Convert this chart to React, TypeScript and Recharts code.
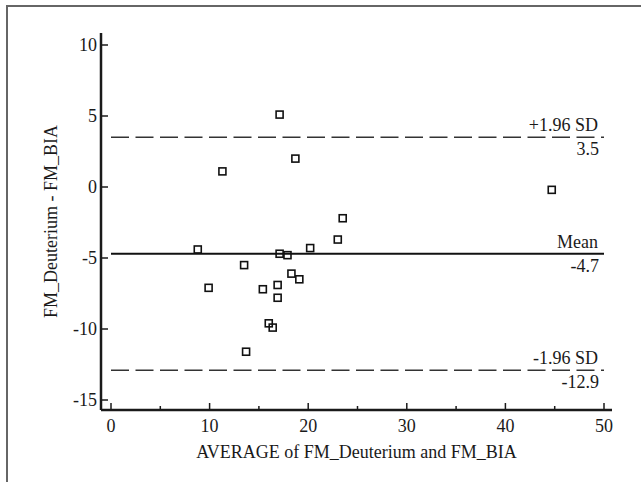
import React from 'react';
import { ScatterChart, Scatter, XAxis, YAxis, ReferenceLine, Label } from 'recharts';

// Bland-Altman data: average of the two methods (x) and their difference (y)
const averages = [17.1, 18.7, 11.3, 44.7, 23.5, 23.0, 20.2, 8.8, 17.1, 17.9, 13.5, 18.3, 19.1, 16.9, 9.9, 15.4, 16.9, 16.0, 16.4, 13.7];
const differences = [5.1, 2.0, 1.1, -0.2, -2.2, -3.7, -4.3, -4.4, -4.7, -4.8, -5.5, -6.1, -6.5, -6.9, -7.1, -7.2, -7.8, -9.6, -9.9, -11.6];

const xTicks = [0, 5, 10, 15, 20, 25, 30, 35, 40, 45, 50];
const yTicks = [-15, -10, -5, 0, 5, 10];

const meanDiff = -4.7;
const upperLimit = 3.5;
const lowerLimit = -12.9;

const FONT = 'Liberation Serif, Times New Roman, serif';
const INK = '#1a1a1a';

const points = averages.map((x, i) => ({ x, y: differences[i] }));

const XTick = (props: any) => {
  const { x, y, payload } = props;
  const major = payload.value % 10 === 0;
  return (
    <g>
      <line x1={x} x2={x} y1={y} y2={y - (major ? 7 : 4)} stroke={INK} strokeWidth={1.5} />
      {major && (
        <text x={x} y={y + 22} textAnchor="middle" fontFamily={FONT} fontSize={18} fill={INK}>
          {payload.value}
        </text>
      )}
    </g>
  );
};

const YTick = (props: any) => {
  const { x, y, payload } = props;
  return (
    <g>
      <line x1={x} x2={x + 7} y1={y} y2={y} stroke={INK} strokeWidth={1.5} />
      <text x={x - 4} y={y + 6} textAnchor="end" fontFamily={FONT} fontSize={18} fill={INK}>
        {payload.value}
      </text>
    </g>
  );
};

const SquareMarker = (props: any) => {
  const { cx, cy } = props;
  return <rect x={cx - 3.5} y={cy - 3.5} width={7} height={7} fill="none" stroke="#111" strokeWidth={1.6} />;
};

const labelStyle = { fontFamily: FONT, fontSize: 18, fill: INK };

export default function App() {
  return (
    <div style={{ position: 'absolute', left: 0, top: 0, width: 641, height: 482, background: '#fff', overflow: 'hidden' }}>
      <ScatterChart width={641} height={482} margin={{ top: 33, right: 29, bottom: 0, left: 0 }}>
        <XAxis
          xAxisId={0}
          dataKey="x"
          type="number"
          domain={[0, 50]}
          ticks={xTicks}
          padding={{ left: 10, right: 8 }}
          height={72}
          tickSize={0}
          tickMargin={0}
          tickLine={false}
          tick={<XTick />}
          interval={0}
          axisLine={{ stroke: INK, strokeWidth: 2.5 }}
          label={{ value: 'AVERAGE of FM_Deuterium and FM_BIA', position: 'insideBottom', offset: 24, style: labelStyle }}
        />
        <YAxis
          yAxisId={0}
          dataKey="y"
          type="number"
          domain={[-15, 10]}
          ticks={yTicks}
          padding={{ top: 12, bottom: 10 }}
          width={101}
          tickSize={0}
          tickMargin={0}
          tickLine={false}
          tick={<YTick />}
          interval={0}
          axisLine={{ stroke: INK, strokeWidth: 2.5 }}
          label={{ value: 'FM_Deuterium - FM_BIA', angle: -90, position: 'center', style: labelStyle }}
        />
        <XAxis
          xAxisId="top"
          orientation="top"
          type="number"
          domain={[0, 50]}
          height={0}
          tick={false}
          tickLine={false}
          axisLine={{ stroke: INK, strokeWidth: 2.5 }}
        />
        <YAxis
          yAxisId="right"
          orientation="right"
          type="number"
          domain={[-15, 10]}
          width={0}
          tick={false}
          tickLine={false}
          axisLine={{ stroke: INK, strokeWidth: 2.5 }}
        />
        <ReferenceLine
          xAxisId={0}
          yAxisId={0}
          segment={[{ x: 0, y: upperLimit }, { x: 50, y: upperLimit }]}
          stroke="#333"
          strokeWidth={1.5}
          strokeDasharray="18 6.5"
        >
          <Label value="+1.96 SD" position="insideBottomRight" offset={6} {...labelStyle} />
          <Label value={String(upperLimit)} position="insideTopRight" offset={5} {...labelStyle} />
        </ReferenceLine>
        <ReferenceLine
          xAxisId={0}
          yAxisId={0}
          segment={[{ x: 0, y: meanDiff }, { x: 50, y: meanDiff }]}
          stroke="#111"
          strokeWidth={2.2}
        >
          <Label value="Mean" position="insideBottomRight" offset={6} {...labelStyle} />
          <Label value={String(meanDiff)} position="insideTopRight" offset={5} {...labelStyle} />
        </ReferenceLine>
        <ReferenceLine
          xAxisId={0}
          yAxisId={0}
          segment={[{ x: 0, y: lowerLimit }, { x: 50, y: lowerLimit }]}
          stroke="#333"
          strokeWidth={1.5}
          strokeDasharray="18 6.5"
        >
          <Label value="-1.96 SD" position="insideBottomRight" offset={6} {...labelStyle} />
          <Label value={String(lowerLimit)} position="insideTopRight" offset={5} {...labelStyle} />
        </ReferenceLine>
        <Scatter xAxisId={0} yAxisId={0} data={points} shape={<SquareMarker />} isAnimationActive={false} />
      </ScatterChart>
      <div
        style={{
          position: 'absolute',
          left: 6,
          top: 5,
          right: 0,
          bottom: 0,
          borderTop: '2px solid #666',
          borderLeft: '2px solid #666',
          pointerEvents: 'none',
        }}
      />
    </div>
  );
}
